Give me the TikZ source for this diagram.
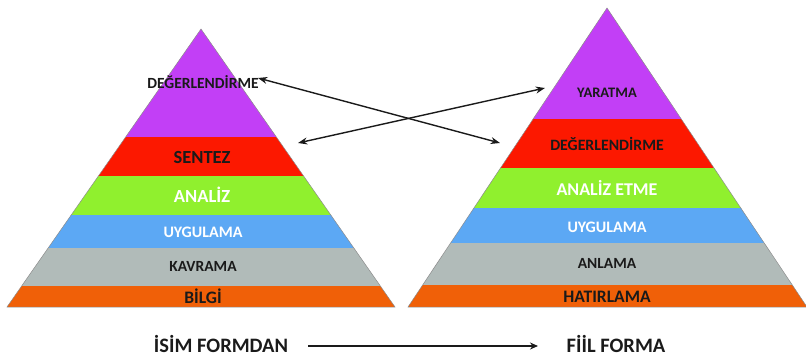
\documentclass[tikz,border=0pt]{standalone}
\usepackage{fontspec}
\setmainfont{Carlito}
\usetikzlibrary{arrows.meta}
\definecolor{mor}{HTML}{C23FF6}
\definecolor{kirmizi}{HTML}{FC1800}
\definecolor{yesil}{HTML}{90F02E}
\definecolor{mavi}{HTML}{5CA8F4}
\definecolor{gri}{HTML}{B1BBB9}
\definecolor{turuncu}{HTML}{F06008}
\definecolor{koyu}{HTML}{1A1A1A}
\tikzset{
  kenar/.style={draw=black!45,line width=0.5pt},
  ayrac/.style={draw=black!30,line width=0.6pt},
  etiket/.style={anchor=base,inner sep=0pt,text=koyu,
    font=\bfseries\fontsize{#1}{#1}\selectfont},
  ok/.style={Stealth-Stealth,line width=1.4pt,draw=koyu},
}
\begin{document}
\begin{tikzpicture}[x=1pt,y=-1pt]
  \useasboundingbox (0,0) rectangle (806,356);
  % sol piramit (isim formu)
  \begin{scope}
    \clip (201,29) -- (395,307) -- (7,307) -- cycle;
    \foreach \ust/\alt/\renk in {29/137/mor,137/176/kirmizi,176/215/yesil,
                                 215/248/mavi,248/286/gri,286/307/turuncu}
    {
      \fill[\renk] (0,\ust) rectangle (400,\alt);
      \draw[ayrac] (0,\alt) -- (400,\alt);
    }
  \end{scope}
  \draw[kenar] (201,29) -- (395,307) -- (7,307) -- cycle;
  % sag piramit (fiil formu)
  \begin{scope}
    \clip (607,8) -- (807,307) -- (408,307) -- cycle;
    \foreach \ust/\alt/\renk in {8/119/mor,119/168/kirmizi,168/208/yesil,
                                 208/243/mavi,243/285/gri,285/307/turuncu}
    {
      \fill[\renk] (400,\ust) rectangle (806,\alt);
      \draw[ayrac] (400,\alt) -- (806,\alt);
    }
  \end{scope}
  \draw[kenar] (607,8) -- (807,307) -- (408,307) -- cycle;

  \node[etiket=15.5] (degS) at (203,88)  {DEĞERLENDİRME};
  \node[etiket=18.5] (sentez) at (202,163) {SENTEZ};
  \node[etiket=18.5,text=white] (analizS) at (202,202) {ANALİZ};
  \node[etiket=16,text=white] (uygS) at (203,237) {UYGULAMA};
  \node[etiket=15.5] (kavrama) at (203,271) {KAVRAMA};
  \node[etiket=17.5] (bilgi) at (203,303) {BİLGİ};

  \node[etiket=14.5] (yaratma) at (607,97)  {YARATMA};
  \node[etiket=15.8] (degF) at (607,150) {DEĞERLENDİRME};
  \node[etiket=18,text=white] (analizF) at (607,195) {ANALİZ ETME};
  \node[etiket=16,text=white] (uygF) at (607,232) {UYGULAMA};
  \node[etiket=15.5] (anlama) at (607,268) {ANLAMA};
  \node[etiket=17.5] (hatirlama) at (607,302) {HATIRLAMA};

  \coordinate (o1a) at (258,78);
  \coordinate (o1b) at (500,143);
  \coordinate (o2a) at (298,143);
  \coordinate (o2b) at (545,88);
  \draw[ok] (o1a) -- (o1b);
  \draw[ok] (o2a) -- (o2b);

  \node[etiket=20.5] (isim) at (221,352) {İSİM FORMDAN};
  \node[etiket=20.5] (fiil) at (616,352) {FİİL FORMA};
  \coordinate (a1) at (308,346);
  \coordinate (a2) at (538,346);
  \draw[-{Stealth[length=8pt,width=7pt]},line width=2pt,draw=koyu] (a1) -- (a2);
\end{tikzpicture}
\end{document}
